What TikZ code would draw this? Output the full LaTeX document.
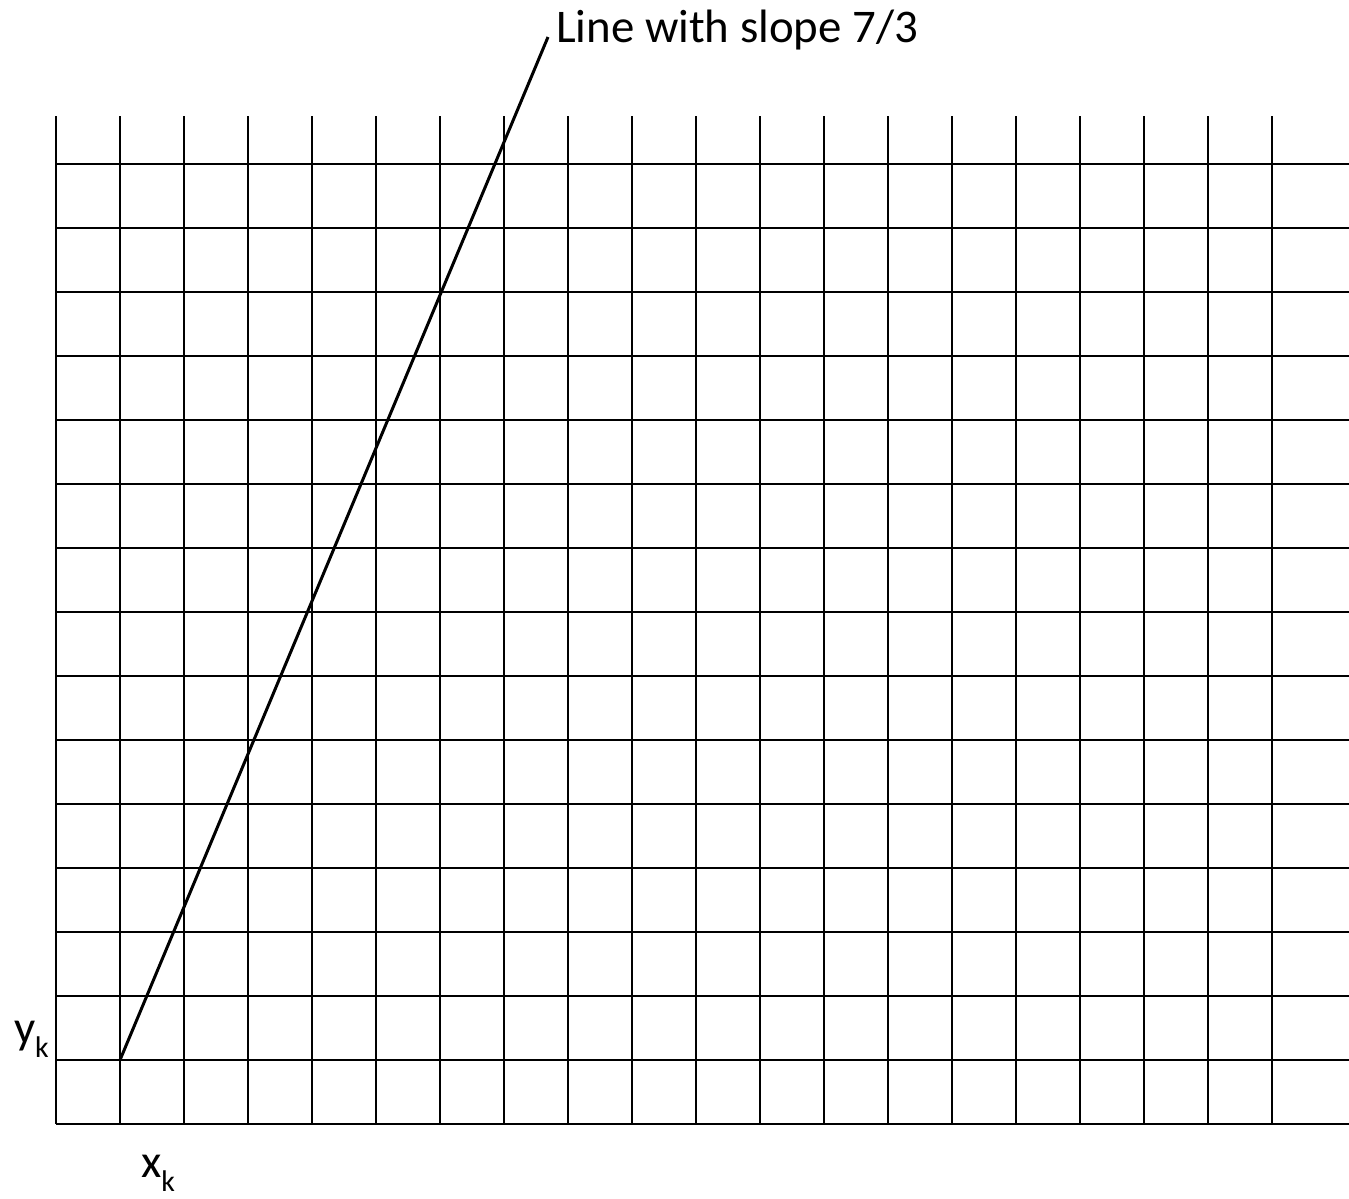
\documentclass[tikz,border=0pt]{standalone}
\usepackage{fontspec}
\setmainfont{Carlito}
\newcommand{\subk}{\raisebox{-14bp}{\fontsize{30}{32}\selectfont k}}
\tikzset{
  gridline/.style={line width=2bp, black},
  slopeline/.style={line width=3bp, black},
  lbl/.style={inner sep=0pt, font=\fontsize{47}{54}\selectfont}
}
\begin{document}
\begin{tikzpicture}[x=1bp,y=-1bp]
\useasboundingbox (0,0) rectangle (1349,1198);
% horizontal grid lines
\foreach \k in {0,...,15} {
  \draw[gridline] (56,1124-64*\k) -- (1349,1124-64*\k);
}
% vertical grid lines
\foreach \i in {0,...,19} {
  \draw[gridline] (56+64*\i,116) -- (56+64*\i,1124);
}
% slope line
\coordinate (start) at (120,1060);
\coordinate (stop) at (548,37);
\draw[slopeline] (start) -- (stop);
\node[lbl, anchor=base west] (title) at (556,42) {Line with slope 7/3};
\node[lbl, anchor=base east] (yk) at (49,1043) {y\subk};
\node[lbl, anchor=base west] (xk) at (141,1177) {x\subk};
\end{tikzpicture}
\end{document}
